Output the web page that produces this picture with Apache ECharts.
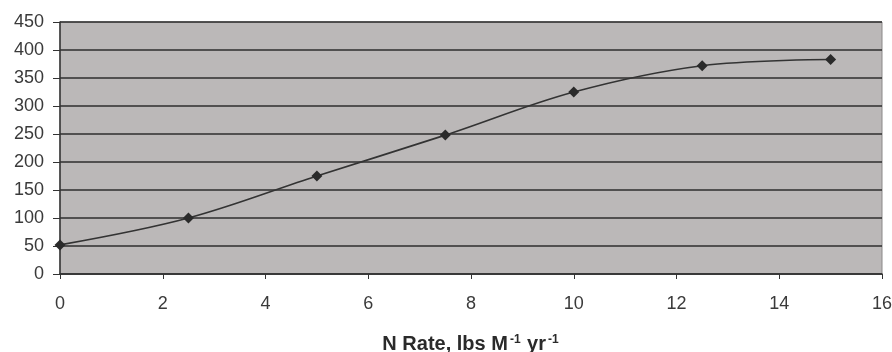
<!DOCTYPE html>
<html>
<head>
<meta charset="utf-8">
<script src="https://cdn.jsdelivr.net/npm/echarts@6/dist/echarts.min.js"></script>
<style>
  html, body { margin: 0; padding: 0; background: #fff; }
  #chart { width: 892px; height: 352px; }
</style>
</head>
<body>
<div id="chart"></div>
<script>
// N rate (x) against response (y)
const nRates = [0, 2.5, 5, 7.5, 10, 12.5, 15]
const values = [52, 100, 175, 248, 325, 372, 383]

const points = nRates.map((x, i) => [x, values[i]])

const chart = echarts.init(document.getElementById('chart'))

chart.setOption({
  animation: false,
  textStyle: { fontFamily: 'Liberation Sans, Arial, sans-serif' },
  grid: {
    left: 60,
    right: 10,
    top: 22,
    bottom: 78,
    show: true,
    backgroundColor: '#bbb8b8',
    borderColor: '#8a8888',
    borderWidth: 1,
    outerBoundsMode: 'none'
  },
  xAxis: {
    type: 'value',
    min: 0,
    max: 16,
    interval: 2,
    name: '{a|N Rate, lbs M}{s|-1}{a| yr}{s|-1}',
    nameLocation: 'middle',
    nameGap: 60,
    nameTextStyle: {
      rich: {
        a: { fontSize: 20, lineHeight: 20, fontWeight: 'bold', color: '#2a2a2a' },
        s: { fontSize: 12, lineHeight: 20, fontWeight: 'bold', color: '#2a2a2a', verticalAlign: 'top', padding: [0, 1, 0, 2] }
      }
    },
    axisLine: { show: true, lineStyle: { color: '#333', width: 1.5 } },
    axisTick: { show: true, length: 5, lineStyle: { color: '#333' } },
    axisLabel: { fontSize: 18, color: '#3a3a3a', margin: 21 },
    splitLine: { show: false }
  },
  yAxis: {
    type: 'value',
    min: 0,
    max: 450,
    interval: 50,
    axisLine: { show: true, lineStyle: { color: '#333', width: 1.5 } },
    axisTick: { show: true, length: 7, lineStyle: { color: '#333' } },
    axisLabel: { fontSize: 18, color: '#3a3a3a', margin: 16 },
    splitLine: { show: true, lineStyle: { color: '#2e2e2e', width: 1.5 } }
  },
  series: [
    {
      type: 'line',
      data: points,
      smooth: 0.35,
      symbol: 'diamond',
      symbolSize: 11,
      itemStyle: { color: '#2a2a2a' },
      lineStyle: { color: '#333', width: 1.6 }
    }
  ]
})
</script>
</body>
</html>
